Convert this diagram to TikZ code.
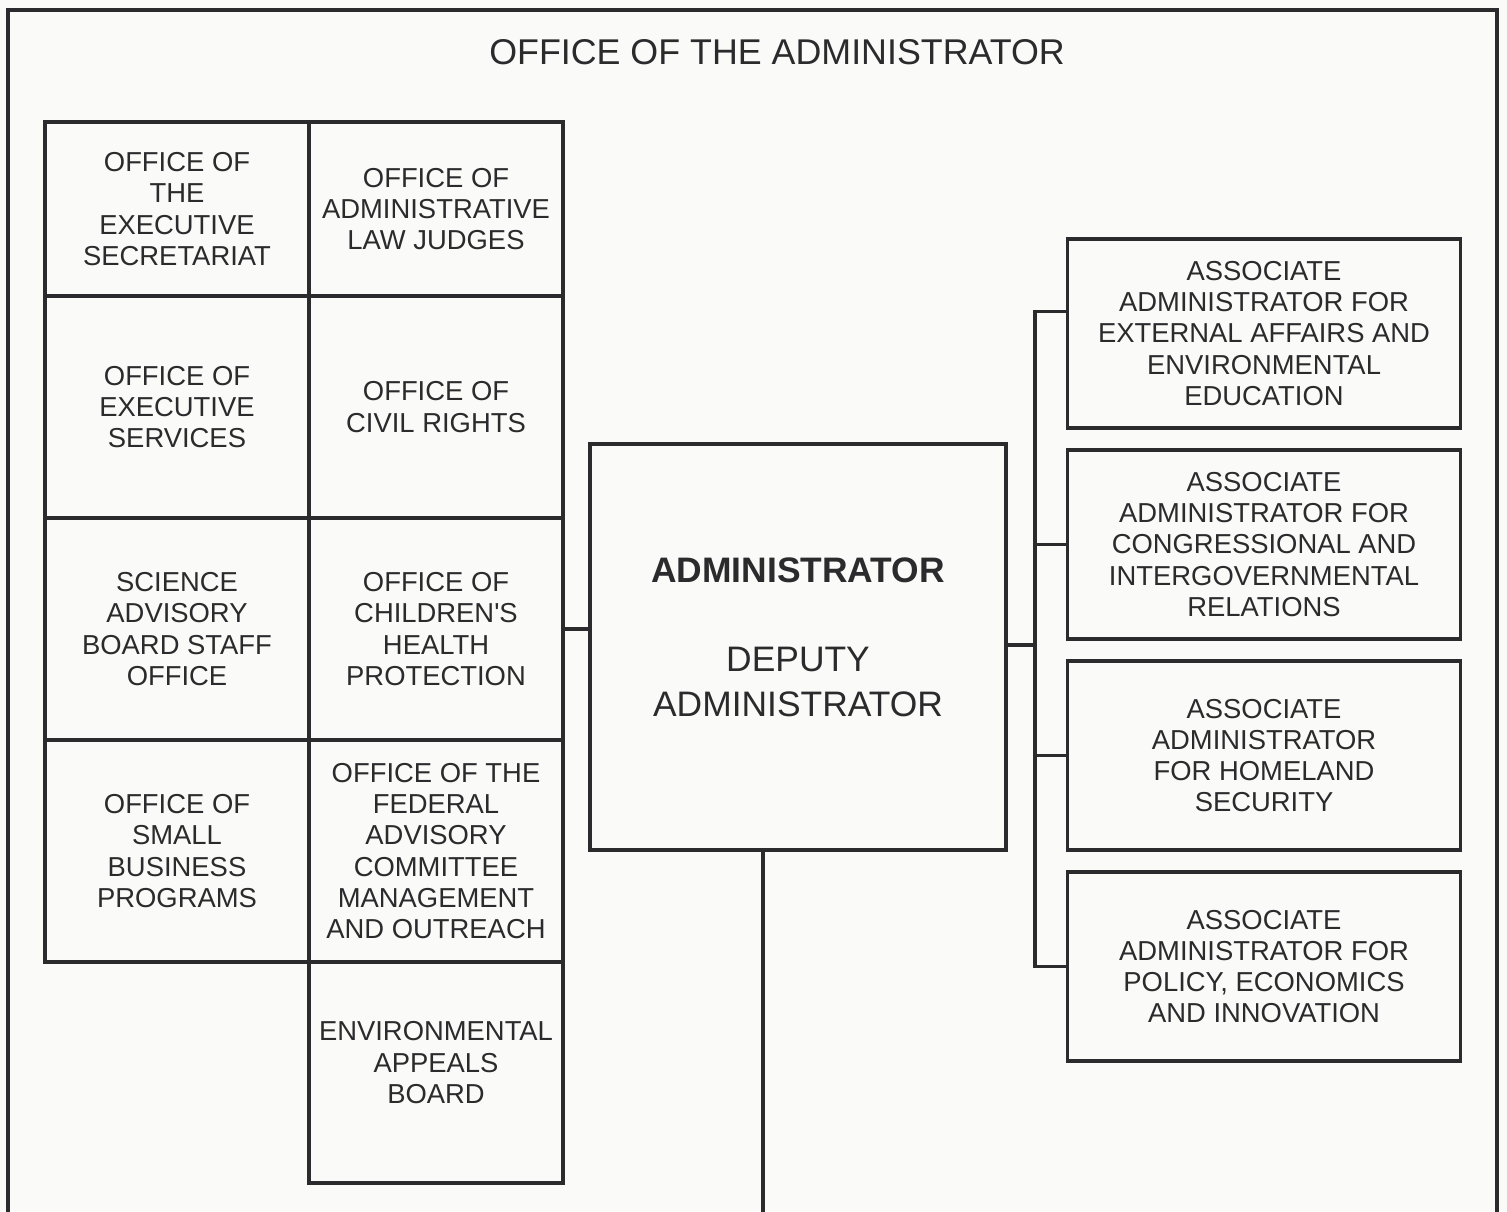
\documentclass[tikz,border=0pt]{standalone}
\usepackage{fontspec}
\setmainfont{Liberation Sans}
\usetikzlibrary{positioning}
\definecolor{ink}{HTML}{2B2A2C}
\definecolor{paper}{HTML}{FAFAF8}
\tikzset{
  cell/.style={draw=ink,line width=1.7pt,outer sep=0pt,inner sep=2pt,align=center,text=ink,
    font=\fontsize{13.7}{15.6}\selectfont,minimum width=132pt},
  cellb/.style={cell,minimum width=127pt},
  abox/.style={cell,minimum width=196.5pt,minimum height=94.5pt},
  admbox/.style={cell,minimum width=208pt,minimum height=203pt,font=\fontsize{17.7}{22.5}\selectfont},
  lab/.style={text=ink,font=\fontsize{17.9}{20}\selectfont},
  link/.style={draw=ink,line width=1.7pt},
}
\begin{document}
\begin{tikzpicture}[x=0.5pt,y=-0.5pt,node distance=0pt]
\fill[paper] (0,0) rectangle (1507,1211);
\useasboundingbox (0,0) rectangle (1507,1211);
% outer frame
\draw[link] (8,1230) |- (1497,10) -- (1497,1230);
\node[lab] (title) at (777,52) {OFFICE OF THE ADMINISTRATOR};

% left block of offices
\node[cell,minimum height=87pt] (c11) at (177,209) {OFFICE OF\\THE\\EXECUTIVE\\SECRETARIAT};
\node[cell,below=of c11,minimum height=111pt] (c21) {OFFICE OF\\EXECUTIVE\\SERVICES};
\node[cell,below=of c21,minimum height=111pt] (c31) {SCIENCE\\ADVISORY\\BOARD STAFF\\OFFICE};
\node[cell,below=of c31,minimum height=111pt] (c41) {OFFICE OF\\SMALL\\BUSINESS\\PROGRAMS};
\node[cellb,right=of c11,minimum height=87pt] (c12) {OFFICE OF\\ADMINISTRATIVE\\LAW JUDGES};
\node[cellb,right=of c21,minimum height=111pt] (c22) {OFFICE OF\\CIVIL RIGHTS};
\node[cellb,right=of c31,minimum height=111pt] (c32) {OFFICE OF\\CHILDREN\textquotesingle S\\HEALTH\\PROTECTION};
\node[cellb,right=of c41,minimum height=111pt] (c42) {OFFICE OF THE\\FEDERAL\\ADVISORY\\COMMITTEE\\MANAGEMENT\\AND OUTREACH};
\node[cellb,below=of c42,minimum height=110.5pt,text depth=10pt] (eab) {ENVIRONMENTAL\\APPEALS\\BOARD};

% administrator
\node[admbox,text depth=10pt] (admin) at (798,647) {\textbf{ADMINISTRATOR}\\[22pt]DEPUTY\\ADMINISTRATOR};

% associate administrators
\node[abox] (aa1) at (1264,333.5) {ASSOCIATE\\ADMINISTRATOR FOR\\EXTERNAL AFFAIRS AND\\ENVIRONMENTAL\\EDUCATION};
\node[abox,below=11pt of aa1] (aa2) {ASSOCIATE\\ADMINISTRATOR FOR\\CONGRESSIONAL AND\\INTERGOVERNMENTAL\\RELATIONS};
\node[abox,below=11pt of aa2] (aa3) {ASSOCIATE\\ADMINISTRATOR\\FOR HOMELAND\\SECURITY};
\node[abox,below=11pt of aa3] (aa4) {ASSOCIATE\\ADMINISTRATOR FOR\\POLICY, ECONOMICS\\AND INNOVATION};

\coordinate (sp) at (1035,645);
\coordinate (down) at (763,1230);
\draw[link] (c32.east) -- (c32.east -| admin.west);
\draw[link] (admin.east |- sp) -- (sp);
\draw[link] ([yshift=11pt]aa1.west) -| (aa4.west -| sp) -- (aa4.west);
\foreach \n in {aa2,aa3} \draw[link] (\n.west) -- (\n.west -| sp);
\draw[link] (down |- admin.south) -- (down);
\end{tikzpicture}
\end{document}
